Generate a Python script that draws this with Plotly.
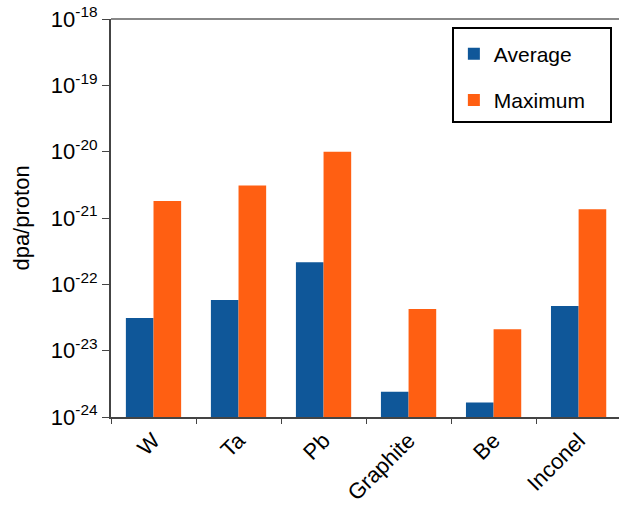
import plotly.graph_objects as go

categories = ["W", "Ta", "Pb", "Graphite", "Be", "Inconel"]
average = [3.1e-23, 5.8e-23, 2.15e-22, 2.4e-24, 1.65e-24, 4.7e-23]
maximum = [1.8e-21, 3.1e-21, 1.0e-20, 4.25e-23, 2.1e-23, 1.35e-21]
tick_vals = [1e-24, 1e-23, 1e-22, 1e-21, 1e-20, 1e-19, 1e-18]
tick_text = ["10<sup>-24</sup>", "10<sup>-23</sup>", "10<sup>-22</sup>", "10<sup>-21</sup>",
             "10<sup>-20</sup>", "10<sup>-19</sup>", "10<sup>-18</sup>"]

FONT = "Liberation Sans, Arial, sans-serif"

fig = go.Figure()
fig.add_trace(go.Bar(x=categories, y=average, name="Average", legendgroup="a",
                     marker=dict(color="#0f5799", line=dict(width=0))))
fig.add_trace(go.Bar(x=categories, y=maximum, name="Maximum", legendgroup="m",
                     marker=dict(color="#ff5f12", line=dict(width=0))))

fig.update_layout(
    width=619, height=512,
    margin=dict(l=111, r=0, t=19, b=95),
    paper_bgcolor="white", plot_bgcolor="white",
    barmode="group", bargap=0.35, bargroupgap=0,
    font=dict(family=FONT, size=20, color="black"),
    showlegend=True,
    legend=dict(x=0.671, y=0.98, xanchor="left", yanchor="top",
                bgcolor="white", bordercolor="black", borderwidth=2,
                font=dict(size=21, family=FONT),
                title=dict(text="\u00a0" * 156, font=dict(size=3.5)),
                traceorder="grouped", tracegroupgap=16,
                itemwidth=30),
)
fig.update_xaxes(
    type="category", range=[-0.5, 5.475],
    showline=True, linecolor="#444", linewidth=2, mirror=False,
    ticks="outside", tickson="boundaries", ticklen=5, tickcolor="#444", tickwidth=1,
    tickangle=-45, tickfont=dict(size=22, family=FONT),
    showgrid=False, zeroline=False, automargin=False,
)
fig.update_yaxes(
    type="log", range=[-24, -18],
    tickvals=tick_vals, ticktext=tick_text,
    showline=True, linecolor="#444", linewidth=2,
    ticks="outside", ticklen=7, tickcolor="#444", tickwidth=1,
    tickfont=dict(size=22, family=FONT), ticklabeloverflow="allow",
    showgrid=False, zeroline=False, automargin=False,
    title=dict(text="dpa/proton", font=dict(size=22, family=FONT)),
)
# top frame line
fig.add_shape(type="line", xref="paper", yref="paper", x0=0, x1=1, y0=1, y1=1,
              line=dict(color="#888", width=2))

fig.write_html("out.html", config={"displayModeBar": False},
               post_script="document.body.style.margin='0px';")
